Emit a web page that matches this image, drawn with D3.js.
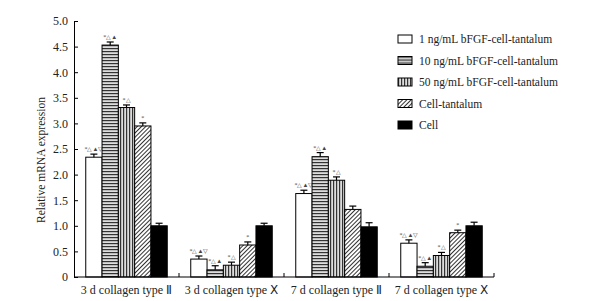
<!DOCTYPE html>
<html>
<head>
<script src="https://cdn.jsdelivr.net/npm/d3@7"></script>
<style type="text/css">
  body{
    background: white;
    margin: 0px;
    font-family: 'Liberation Serif', 'Times New Roman', serif;
  }
  svg { font-family: 'Liberation Serif', serif; }
  .axis path, .axis line { stroke: black; stroke-width: 1px; }
  .axis text { font-size: 12px; fill: #222; font-family: 'Liberation Serif', serif; }
  .legendText { font-size: 11.5px; fill: #222; }
  .mark { font-size: 6px; fill: #444; }
</style>
</head>
<body>
<script>

// groups along x
var groups = ["3 d collagen type \u2161", "3 d collagen type \u2169", "7 d collagen type \u2161", "7 d collagen type \u2169"];
var seriesNames = ["1 ng/mL bFGF-cell-tantalum", "10 ng/mL bFGF-cell-tantalum", "50 ng/mL bFGF-cell-tantalum", "Cell-tantalum", "Cell"];

// values per series (one entry per group)
var s1 = [2.34, 0.35, 1.63, 0.66];
var s10 = [4.53, 0.14, 2.35, 0.21];
var s50 = [3.31, 0.23, 1.89, 0.42];
var sTa = [2.95, 0.625, 1.32, 0.865];
var sCell = [1.0, 1.0, 0.98, 1.0];

// error bars (sd)
var e1 = [0.06, 0.06, 0.065, 0.065];
var e10 = [0.06, 0.08, 0.08, 0.07];
var e50 = [0.05, 0.06, 0.065, 0.06];
var eTa = [0.06, 0.06, 0.065, 0.05];
var eCell = [0.05, 0.05, 0.08, 0.07];

// significance marks
var m1 = ["*\u25b3\u25b2\u25bd", "*\u25b3\u25b2\u25bd", "*\u25b3\u25b2\u25bd", "*\u25b3\u25b2\u25bd"];
var m10 = ["*\u25b3\u25b2", "*\u25b3\u25b2", "*\u25b3\u25b2", "*\u25b3\u25b2"];
var m50 = ["*\u25b3", "*\u25b3", "*\u25b3", "*\u25b3"];
var mTa = ["*", "*", "", "*"];
var mCell = ["", "", "", ""];

var yTicks = [0, 0.5, 1.0, 1.5, 2.0, 2.5, 3.0, 3.5, 4.0, 4.5, 5.0];

var values = [s1, s10, s50, sTa, sCell];
var errors = [e1, e10, e50, eTa, eCell];
var marks = [m1, m10, m50, mTa, mCell];
var fills = ["white", "url(#hstripe)", "url(#vstripe)", "url(#diag)", "black"];

var width = 603, height = 301;
var margin = {top: 21, right: 109, bottom: 24, left: 74};

var svg = d3.select("body").append("svg")
    .attr("width", width)
    .attr("height", height);

var defs = svg.append("defs");

var hp = defs.append("pattern").attr("id", "hstripe")
    .attr("patternUnits", "userSpaceOnUse").attr("width", 6).attr("height", 3);
hp.append("rect").attr("width", 6).attr("height", 3).attr("fill", "#ddd");
hp.append("rect").attr("y", 0).attr("width", 6).attr("height", 1.2).attr("fill", "#333");

var vp = defs.append("pattern").attr("id", "vstripe")
    .attr("patternUnits", "userSpaceOnUse").attr("width", 3).attr("height", 6);
vp.append("rect").attr("width", 3).attr("height", 6).attr("fill", "#ddd");
vp.append("rect").attr("x", 0).attr("width", 1.2).attr("height", 6).attr("fill", "#333");

var dp = defs.append("pattern").attr("id", "diag")
    .attr("patternUnits", "userSpaceOnUse").attr("width", 3).attr("height", 3)
    .attr("patternTransform", "rotate(45)");
dp.append("rect").attr("width", 3).attr("height", 3).attr("fill", "white");
dp.append("rect").attr("width", 1).attr("height", 3).attr("fill", "#333");

var g = svg.append("g");

var x0 = d3.scaleBand().domain(groups)
    .range([margin.left, width - margin.right]).paddingInner(0).paddingOuter(0);

var barW = 16.3;
var x1 = d3.scaleBand().domain(d3.range(seriesNames.length))
    .range([0, barW * seriesNames.length]);

var y = d3.scaleLinear().domain([0, 5]).range([height - margin.bottom, margin.top]);

// bars
values.forEach(function(vals, si) {
  var off = (x0.bandwidth() - barW * seriesNames.length) / 2;
  vals.forEach(function(v, gi) {
    var bx = x0(groups[gi]) + off + x1(si);
    g.append("rect")
      .attr("x", bx)
      .attr("y", y(v))
      .attr("width", barW)
      .attr("height", y(0) - y(v))
      .attr("fill", fills[si])
      .attr("stroke", "black")
      .attr("stroke-width", 1);

    var cx = bx + barW / 2;
    var ey = y(v + errors[si][gi]);
    g.append("line").attr("x1", cx).attr("x2", cx).attr("y1", y(v)).attr("y2", ey)
      .attr("stroke", "black").attr("stroke-width", 1.2);
    g.append("line").attr("x1", cx - 3.5).attr("x2", cx + 3.5).attr("y1", ey).attr("y2", ey)
      .attr("stroke", "black").attr("stroke-width", 1.2);

    if (marks[si][gi]) {
      g.append("text").attr("class", "mark")
        .attr("x", cx).attr("y", ey - 3)
        .attr("text-anchor", "middle")
        .text(marks[si][gi]);
    }
  });
});

// y axis
var yAxis = d3.axisLeft(y).tickValues(yTicks).tickSizeInner(-4).tickSizeOuter(0)
    .tickPadding(6)
    .tickFormat(function(d) { return d === 0 ? "0" : d3.format(".1f")(d); });
svg.append("g").attr("class", "axis")
    .attr("transform", "translate(" + margin.left + ",0)")
    .call(yAxis);

// x axis
var xAxis = d3.axisBottom(x0).tickSize(0).tickPadding(8);
var xg = svg.append("g").attr("class", "axis")
    .attr("transform", "translate(0," + y(0) + ")")
    .call(xAxis);
xg.select(".domain").attr("d", "M" + margin.left + ",0H" + (width - margin.right));
xg.selectAll("text").style("font-size", "12px");
groups.forEach(function(gr) {
  var tx = x0(gr) + x0.bandwidth();
  xg.append("line").attr("x1", tx).attr("x2", tx).attr("y1", 0).attr("y2", -4)
    .attr("stroke", "black");
});

// y label
svg.append("text")
    .attr("transform", "translate(45," + ((y(0) + y(5)) / 2 + 11) + ") rotate(-90)")
    .attr("text-anchor", "middle")
    .style("font-size", "11.5px")
    .attr("fill", "#222")
    .text("Relative mRNA expression");

// legend
var legend = svg.append("g").attr("transform", "translate(398,35)");
seriesNames.forEach(function(n, i) {
  var row = legend.append("g").attr("transform", "translate(0," + (i * 21.5) + ")");
  row.append("rect").attr("width", 14).attr("height", 8)
    .attr("fill", fills[i]).attr("stroke", "black").attr("stroke-width", 1);
  row.append("text").attr("class", "legendText")
    .attr("x", 21).attr("y", 8).text(n);
});

</script>
</body>
</html>
